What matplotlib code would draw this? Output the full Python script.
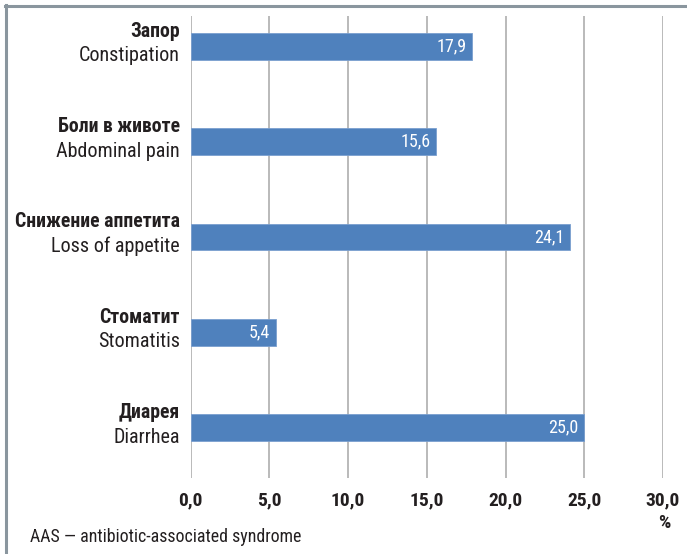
import matplotlib
matplotlib.use("Agg")
import matplotlib.pyplot as plt
from matplotlib.lines import Line2D

plt.rcParams['font.family'] = ['Roboto Condensed', 'PT Sans Narrow', 'DejaVu Sans']

labels_ru = ["Диарея", "Стоматит", "Снижение аппетита", "Боли в животе", "Запор"]
labels_en = ["Diarrhea", "Stomatitis", "Loss of appetite", "Abdominal pain", "Constipation"]
values = [25.0, 5.4, 24.1, 15.6, 17.9]
xticks = [0, 5, 10, 15, 20, 25, 30]
xtick_labels = ["0,0", "5,0", "10,0", "15,0", "20,0", "25,0", "30,0"]
footnote = "AAS — antibiotic-associated syndrome"

W, H = 687, 554
PX = 0.72  # points per pixel at 100 dpi
fig = plt.figure(figsize=(W / 100, H / 100), dpi=100)
ax = fig.add_axes([190.5 / W, 1 - 478 / H, (663 - 190.5) / W, (478 - 16) / H])

y = list(range(len(values)))
ax.barh(y, values, height=0.28, color="#4f81bd", edgecolor="#7a9fcf", linewidth=0.6, zorder=3)
ax.set_xlim(0, 30)
ax.set_ylim(-0.53, 4.32)
for xv in xticks:
    ax.axvline(xv, color="#b4b4b4", linewidth=1.3, zorder=1)
for s in ax.spines.values():
    s.set_visible(False)
ax.set_yticks([])
ax.set_xticks(xticks)
ax.set_xticklabels(xtick_labels, fontsize=14, fontweight="bold", color="#231f20", va="baseline")
ax.tick_params(axis="x", length=0, pad=27 * PX)

for yi, v in zip(y, values):
    ax.annotate(f"{v:.1f}".replace(".", ","), xy=(v, yi), xytext=(-6 * PX, 0),
                textcoords="offset points", ha="right", va="center",
                color="white", fontsize=13, zorder=4)

for yi, ru, en in zip(y, labels_ru, labels_en):
    ax.annotate(ru, xy=(0, yi), xycoords="data", xytext=(-10.5 * PX, 9.5 * PX), textcoords="offset points",
                ha="right", va="baseline", fontsize=14.2, fontweight="bold", color="#231f20",
                annotation_clip=False)
    ax.annotate(en, xy=(0, yi), xycoords="data", xytext=(-10.5 * PX, -15 * PX), textcoords="offset points",
                ha="right", va="baseline", fontsize=14.5, color="#231f20",
                annotation_clip=False)

fig.text(664 / W, 1 - 528 / H, "%", ha="center", va="baseline", fontsize=14,
         fontweight="bold", color="#231f20")
fig.text(30 / W, 1 - 542.5 / H, footnote, ha="left", va="baseline", fontsize=12.9, color="#231f20")

# frame lines (top and left)
fig.add_artist(Line2D([5 / W, 1], [1 - 6 / H, 1 - 6 / H], color="#8a969e", linewidth=2.2))
fig.add_artist(Line2D([6 / W, 6 / W], [0, 1 - 5 / H], color="#8a969e", linewidth=2.2))

fig.savefig("out.png", dpi=100)
